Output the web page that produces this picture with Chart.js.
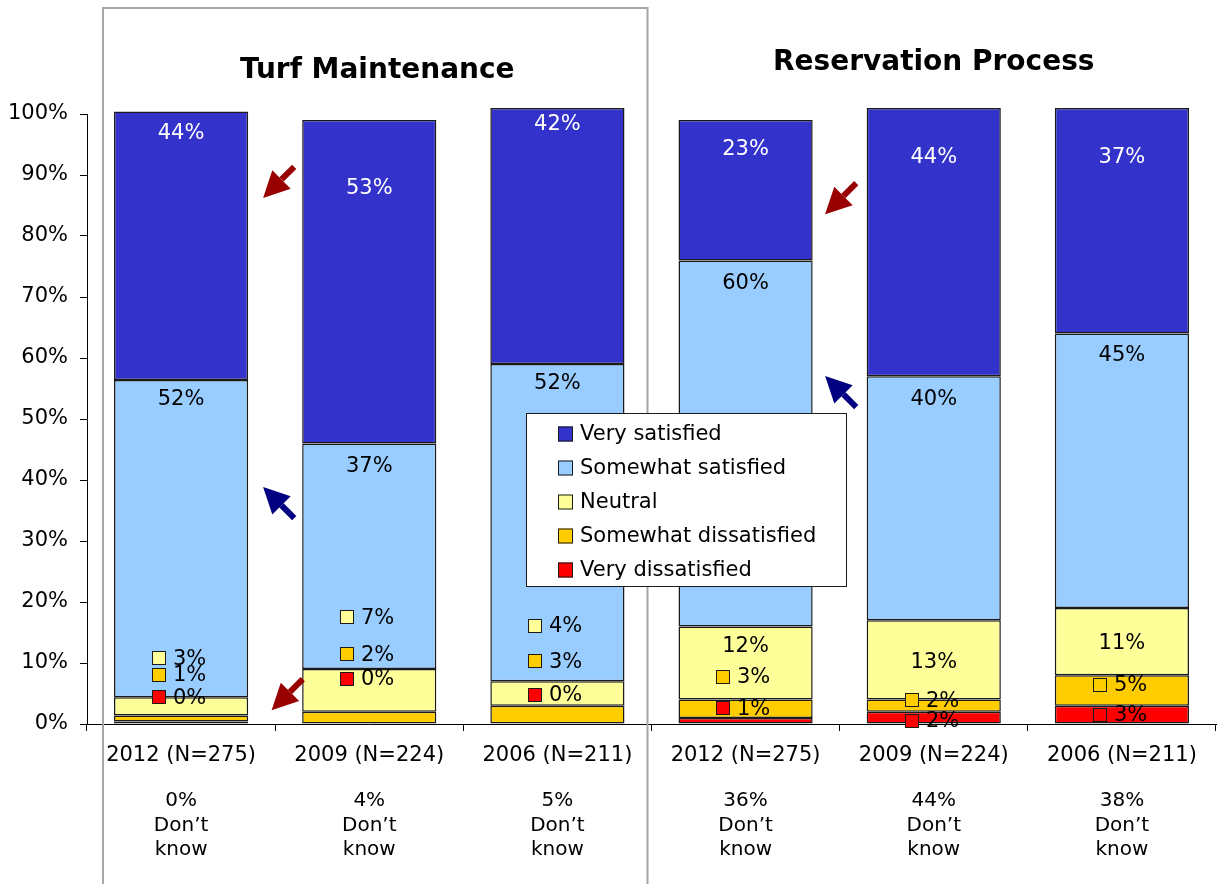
<!DOCTYPE html>
<html>
<head>
<meta charset="utf-8">
<script src="https://cdn.jsdelivr.net/npm/chart.js@4.4.1/dist/chart.umd.min.js"></script>
<style>
  html, body { margin: 0; padding: 0; background: #fff; }
  #wrap { width: 1220px; height: 884px; position: relative; }
</style>
</head>
<body>
<div id="wrap"><canvas id="c" width="1220" height="884"></canvas></div>
<script>
// Survey results: satisfaction with turf maintenance and the reservation process
const categories = ['2012 (N=275)', '2009 (N=224)', '2006 (N=211)', '2012 (N=275)', '2009 (N=224)', '2006 (N=211)'];
const groupTitles = ['Turf Maintenance', 'Reservation Process'];
const seriesNames = ['Very dissatisfied', 'Somewhat dissatisfied', 'Neutral', 'Somewhat satisfied', 'Very satisfied'];

const veryDissatisfied     = [0.4, 0, 0, 1, 2, 3];
const somewhatDissatisfied = [1, 2, 3, 3, 2, 5];
const neutral              = [3, 7, 4, 12, 13, 11];
const somewhatSatisfied    = [52, 37, 52, 60, 40, 45];
const verySatisfied        = [44, 53, 42, 23, 44, 37];
const dontKnow             = [0, 4, 5, 36, 44, 38];

const yTicks = [0, 10, 20, 30, 40, 50, 60, 70, 80, 90, 100];

// where each value label sits, in axis units (percent)
const veryDissatisfiedAt     = [4.4, 7.4, 4.8, 2.6, 0.5, 1.5];
const somewhatDissatisfiedAt = [8.1, 11.4, 10.3, 7.7, 3.9, 6.4];
const neutralAt              = [10.8, 17.5, 16.1, 12.9, 10.2, 13.3];
const somewhatSatisfiedAt    = [53.4, 42.3, 55.9, 72.3, 53.4, 60.5];
const verySatisfiedAt        = [96.9, 88.0, 98.4, 94.4, 93.0, 93.0];

// which labels carry a small colour key next to the number
const veryDissatisfiedKey     = [true, true, true, true, true, true];
const somewhatDissatisfiedKey = [true, true, true, true, true, true];
const neutralKey              = [true, true, true, false, false, false];
const somewhatSatisfiedKey    = [false, false, false, false, false, false];
const verySatisfiedKey        = [false, false, false, false, false, false];

const colors = ['#FF0000', '#FFCC00', '#FFFF99', '#99CCFF', '#3333CC'];
const labelColors = ['#000', '#000', '#000', '#000', '#fff'];

const FONT = '"DejaVu Sans", Verdana, sans-serif';

const seriesValues = [veryDissatisfied, somewhatDissatisfied, neutral, somewhatSatisfied, verySatisfied];
const seriesAt = [veryDissatisfiedAt, somewhatDissatisfiedAt, neutralAt, somewhatSatisfiedAt, verySatisfiedAt];
const seriesKey = [veryDissatisfiedKey, somewhatDissatisfiedKey, neutralKey, somewhatSatisfiedKey, verySatisfiedKey];

// comparison arrows placed in the gaps between bars
const arrows = [
  { gap: 1, dx: 3.5, at: 88.8, dir: 'down', color: '#990000' },
  { gap: 1, dx: 3.5, at: 36.3, dir: 'up',   color: '#000080' },
  { gap: 1, dx: 12,  at: 4.8,  dir: 'down', color: '#990000' },
  { gap: 4, dx: 1,   at: 86.1, dir: 'down', color: '#990000' },
  { gap: 4, dx: 1,   at: 54.5, dir: 'up',   color: '#000080' }
];

const datasets = seriesNames.map((name, i) => ({
  label: name,
  data: seriesValues[i],
  backgroundColor: colors[i],
  borderColor: '#1a1a1a',
  borderWidth: 1.5,
  borderSkipped: false,
  clip: false,
  categoryPercentage: 1,
  barPercentage: 0.713
}));

function gapPixel(xs, g) {
  return (xs.getPixelForValue(g - 1) + xs.getPixelForValue(g)) / 2;
}

const framePlugin = {
  id: 'frame',
  beforeDatasetsDraw(chart) {
    const { ctx, chartArea } = chart;
    const xs = chart.scales.x;
    const left = chartArea.left + 16;
    const right = gapPixel(xs, 3) - 4;
    ctx.save();
    ctx.strokeStyle = '#A6A6A6';
    ctx.lineWidth = 2;
    ctx.beginPath();
    ctx.moveTo(left, chart.height + 2);
    ctx.lineTo(left, 8);
    ctx.lineTo(right, 8);
    ctx.lineTo(right, chart.height + 2);
    ctx.stroke();
    ctx.restore();
  }
};

const titlesPlugin = {
  id: 'titles',
  afterDraw(chart) {
    const { ctx, chartArea } = chart;
    const xs = chart.scales.x;
    ctx.save();
    ctx.fillStyle = '#000';
    ctx.font = 'bold 28px ' + FONT;
    ctx.textAlign = 'center';
    ctx.textBaseline = 'alphabetic';
    const turfCenter = (chartArea.left + 16 + gapPixel(xs, 3) - 4) / 2 + 2;
    ctx.fillText(groupTitles[0], turfCenter, chartArea.top - 36);
    const resCenter = (xs.getPixelForValue(3) + xs.getPixelForValue(5)) / 2;
    ctx.fillText(groupTitles[1], resCenter, chartArea.top - 44);
    ctx.restore();
  }
};

const valueLabelsPlugin = {
  id: 'valueLabels',
  afterDatasetsDraw(chart) {
    const { ctx } = chart;
    const xs = chart.scales.x, ys = chart.scales.y;
    ctx.save();
    ctx.font = '21px ' + FONT;
    ctx.textBaseline = 'middle';
    seriesValues.forEach((vals, s) => {
      vals.forEach((v, i) => {
        const txt = Math.round(v) + '%';
        const cx = xs.getPixelForValue(i);
        const cy = ys.getPixelForValue(seriesAt[s][i]);
        if (seriesKey[s][i]) {
          const tw = ctx.measureText(txt).width;
          const total = 14 + 7 + tw;
          const x0 = Math.round(cx - 2 - total / 2);
          const y0 = Math.round(cy - 7);
          ctx.fillStyle = colors[s];
          ctx.fillRect(x0, y0, 14, 14);
          ctx.strokeStyle = '#1a1a1a';
          ctx.lineWidth = 1;
          ctx.strokeRect(x0 + 0.5, y0 + 0.5, 13, 13);
          ctx.fillStyle = '#000';
          ctx.textAlign = 'left';
          ctx.fillText(txt, x0 + 21, cy + 1);
        } else {
          ctx.fillStyle = labelColors[s];
          ctx.textAlign = 'center';
          ctx.fillText(txt, cx, cy + 1);
        }
      });
    });
    ctx.restore();
  }
};

const arrowsPlugin = {
  id: 'arrows',
  afterDatasetsDraw(chart) {
    const { ctx } = chart;
    const xs = chart.scales.x, ys = chart.scales.y;
    arrows.forEach(a => {
      const cx = gapPixel(xs, a.gap) + a.dx;
      const cy = ys.getPixelForValue(a.at);
      const ux = -Math.SQRT1_2;
      const uy = a.dir === 'down' ? Math.SQRT1_2 : -Math.SQRT1_2;
      const half = 22;
      const tipX = cx + ux * half, tipY = cy + uy * half;
      const tailX = cx - ux * half, tailY = cy - uy * half;
      const headLen = 26, headHalf = 13;
      const bx = tipX - ux * headLen, by = tipY - uy * headLen;
      const px = -uy, py = ux;
      ctx.save();
      ctx.strokeStyle = a.color;
      ctx.fillStyle = a.color;
      ctx.lineWidth = 6;
      ctx.beginPath();
      ctx.moveTo(tailX, tailY);
      ctx.lineTo(bx, by);
      ctx.stroke();
      ctx.beginPath();
      ctx.moveTo(tipX, tipY);
      ctx.lineTo(bx + px * headHalf, by + py * headHalf);
      ctx.lineTo(bx - px * headHalf, by - py * headHalf);
      ctx.closePath();
      ctx.fill();
      ctx.restore();
    });
  }
};

const dontKnowPlugin = {
  id: 'dontKnow',
  afterDraw(chart) {
    const { ctx, chartArea } = chart;
    const xs = chart.scales.x;
    ctx.save();
    ctx.fillStyle = '#000';
    ctx.font = '20px ' + FONT;
    ctx.textAlign = 'center';
    ctx.textBaseline = 'middle';
    dontKnow.forEach((v, i) => {
      const cx = xs.getPixelForValue(i);
      const y0 = chartArea.bottom + 77;
      ctx.fillText(v + '%', cx, y0);
      ctx.fillText('Don\u2019t', cx, y0 + 25);
      ctx.fillText('know', cx, y0 + 49);
    });
    ctx.restore();
  }
};

const legendPlugin = {
  id: 'boxLegend',
  afterDraw(chart) {
    const { ctx, chartArea } = chart;
    const left = chartArea.left + 439, top = chartArea.top + 299;
    const w = 320, h = 173;
    ctx.save();
    ctx.fillStyle = '#fff';
    ctx.fillRect(left, top, w, h);
    ctx.strokeStyle = '#1a1a1a';
    ctx.lineWidth = 1;
    ctx.strokeRect(left + 0.5, top + 0.5, w, h);
    ctx.font = '21px ' + FONT;
    ctx.textAlign = 'left';
    ctx.textBaseline = 'middle';
    for (let k = 0; k < seriesNames.length; k++) {
      const s = seriesNames.length - 1 - k;
      const cy = top + 20.5 + k * 34;
      ctx.fillStyle = colors[s];
      ctx.fillRect(left + 32, cy - 7, 15, 15);
      ctx.strokeStyle = '#1a1a1a';
      ctx.strokeRect(left + 32.5, cy - 6.5, 14, 14);
      ctx.fillStyle = '#000';
      ctx.fillText(seriesNames[s], left + 54, cy + 1);
    }
    ctx.restore();
  }
};

new Chart(document.getElementById('c'), {
  type: 'bar',
  data: { labels: categories, datasets },
  options: {
    responsive: false,
    animation: false,
    devicePixelRatio: 1,
    layout: { padding: { top: 114, right: 4, left: 0, bottom: 0 } },
    plugins: { legend: { display: false }, tooltip: { enabled: false } },
    scales: {
      x: {
        stacked: true,
        afterFit(axis) { axis.height = 160; },
        grid: { offset: true, drawOnChartArea: false, drawTicks: true, tickLength: 7, color: '#000' },
        border: { color: '#000', width: 1 },
        ticks: { color: '#000', font: { family: FONT, size: 21 }, padding: 12, maxRotation: 0, autoSkip: false }
      },
      y: {
        stacked: true,
        min: 0,
        max: 100,
        afterFit(axis) { axis.width = 87; },
        afterBuildTicks(axis) { axis.ticks = yTicks.map(v => ({ value: v })); },
        grid: { drawOnChartArea: false, drawTicks: true, tickLength: 7, color: '#000' },
        border: { color: '#000', width: 1 },
        ticks: { color: '#000', font: { family: FONT, size: 21 }, padding: 12, callback: v => v + '%' }
      }
    }
  },
  plugins: [framePlugin, valueLabelsPlugin, arrowsPlugin, titlesPlugin, dontKnowPlugin, legendPlugin]
});
</script>
</body>
</html>
